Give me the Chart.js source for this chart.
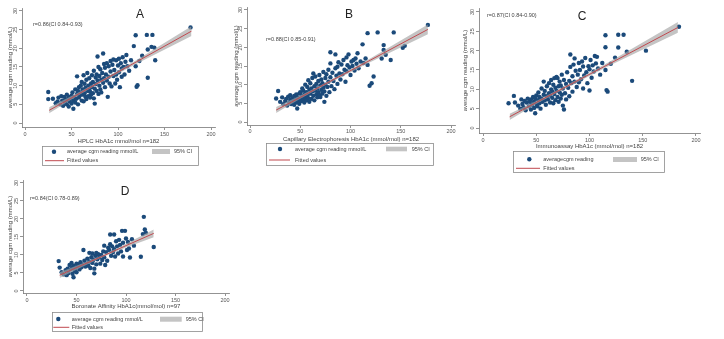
<!DOCTYPE html>
<html>
<head>
<meta charset="utf-8">
<script src="https://cdn.jsdelivr.net/npm/chart.js@4.4.1/dist/chart.umd.min.js"></script>
<style>
  body { margin: 0; background: #fff; width: 724px; height: 339px; position: relative; overflow: hidden; }
  canvas { position: absolute; }
</style>
</head>
<body>
<canvas id="chartA"></canvas>
<canvas id="chartB"></canvas>
<canvas id="chartC"></canvas>
<canvas id="chartD"></canvas>
<script>
// ---- tick labels (same on every panel)
const xTickValues = [0, 50, 100, 150, 200];
const yTickValues = [0, 5, 10, 15, 20, 25, 30];

// ---- A: HPLC HbA1c vs average cgm reading  [HbA1c, cgm]
const hplcPoints = [
  [25,8.3],[25,6.4],[30,6.5],[33,5.3],[35,5.8],[36,6.8],[38,5.0],[39,7.2],[40,6.0],[41,4.6],[42,7.0],[43,5.5],
  [44,6.4],[45,5.0],[45,7.6],[46,6.2],[47,4.4],[47,7.0],[48,5.8],[49,6.6],[50,5.2],[50,7.3],[51,8.2],[52,3.8],
  [52,6.0],[53,7.0],[54,9.0],[54,5.5],[55,6.5],[56,7.8],[56,12.5],[57,8.6],[57,5.0],[58,6.8],[58,9.6],[59,7.4],
  [60,8.2],[60,10.0],[61,6.0],[61,11.0],[62,7.6],[62,9.0],[63,5.8],[63,12.8],[64,8.0],[64,10.5],[65,7.0],[65,9.4],
  [66,6.4],[66,11.6],[67,8.6],[67,13.4],[68,7.2],[68,10.0],[69,9.0],[69,12.0],[70,6.8],[70,8.4],[71,10.6],[71,7.6],
  [72,9.6],[72,12.8],[73,8.0],[73,11.0],[74,6.6],[74,14.0],[75,9.2],[75,5.2],[76,10.4],[76,12.2],[77,8.6],[77,13.0],
  [78,11.4],[78,17.8],[79,7.8],[79,15.0],[80,10.0],[80,12.6],[81,9.0],[81,14.4],[82,11.6],[82,8.2],[83,13.4],[84,18.6],
  [84,10.8],[85,15.8],[85,12.0],[86,9.6],[86,14.8],[87,13.0],[88,16.0],[88,11.4],[89,7.0],[90,15.2],[90,12.4],[91,10.6],
  [92,16.6],[92,13.8],[93,9.8],[94,15.6],[95,12.6],[95,17.0],[96,14.2],[97,10.6],[98,16.8],[98,13.0],[99,11.6],[100,15.4],
  [101,17.2],[101,13.6],[102,9.6],[103,16.0],[104,14.6],[104,12.4],[105,17.6],[106,15.0],[107,13.0],[108,16.4],[109,18.2],
  [110,15.2],[112,14.0],[114,16.8],[117,20.6],[119,23.5],[119,15.2],[120,9.7],[121,10.1],[123,16.6],[126,18.0],[131,23.6],
  [132,19.7],[132,12.1],[136,20.4],[137,23.6],[139,20.2],[140,16.8],[178,25.6]
];
const hplcFitX = [26, 50, 72, 120, 179];
const hplcFitY = [3.4, 6.7, 9.8, 16.4, 24.6];
const hplcCiLow = [2.6, 6.3, 9.5, 15.9, 23.3];
const hplcCiHigh = [4.2, 7.2, 10.1, 16.9, 25.9];

// ---- B: capillary electrophoresis
const capPoints = [
  [26,6.3],[28,8.3],[30,5.4],[32,6.6],[33,4.8],[35,5.6],[36,6.2],[37,4.4],[38,6.8],[39,5.2],[40,6.0],[40,7.2],
  [41,4.8],[42,6.4],[43,5.6],[44,7.0],[44,4.6],[45,6.0],[46,7.4],[46,5.2],[47,3.6],[47,6.6],[48,5.8],[49,7.6],
  [49,4.9],[50,6.4],[50,8.0],[51,5.6],[52,7.0],[52,9.0],[53,6.0],[53,8.4],[54,5.2],[54,7.4],[55,6.6],[55,10.0],
  [56,8.0],[56,5.8],[57,7.2],[57,9.4],[58,6.4],[58,11.2],[59,8.6],[59,5.4],[60,7.6],[60,10.4],[61,9.0],[61,6.2],
  [62,8.2],[62,11.8],[63,13.0],[63,7.0],[64,9.6],[64,5.8],[65,12.2],[65,8.4],[66,7.4],[66,10.2],[67,9.0],[67,6.6],
  [68,11.0],[68,8.0],[69,12.6],[69,7.2],[70,6.7],[70,9.8],[71,8.6],[71,11.4],[72,10.4],[72,7.6],[73,13.4],[73,9.2],
  [74,5.4],[74,8.2],[75,11.8],[75,10.0],[76,7.0],[76,12.8],[77,9.4],[78,14.0],[78,10.8],[79,8.0],[80,18.7],[80,15.7],
  [80,12.0],[81,9.6],[82,13.2],[83,11.0],[84,8.8],[85,18.1],[85,14.4],[86,12.4],[87,14.8],[87,10.2],[88,16.0],[89,13.0],
  [90,11.4],[91,15.4],[92,12.8],[93,16.6],[94,14.0],[95,10.8],[96,17.3],[96,13.6],[97,15.2],[98,18.1],[99,14.6],[100,12.6],
  [101,16.2],[102,15.0],[103,16.6],[104,13.8],[105,17.0],[106,15.6],[107,18.4],[108,14.4],[110,16.2],[112,20.8],[113,15.8],
  [115,17.0],[117,23.8],[117,15.3],[119,9.7],[121,10.4],[123,12.2],[127,24.0],[131,17.0],[133,20.6],[133,19.3],[135,18.0],
  [140,16.6],[143,24.0],[152,19.9],[154,20.4],[177,26.0]
];
const capFitX = [26, 50, 70, 120, 177];
const capFitY = [3.2, 6.6, 9.5, 16.6, 24.8];
const capCiLow = [2.4, 6.2, 9.2, 16.1, 23.5];
const capCiHigh = [4.0, 7.1, 9.8, 17.1, 26.1];

// ---- C: immunoassay
const immPoints = [
  [24,6.4],[29,8.3],[30,6.6],[33,5.8],[35,5.0],[36,7.4],[37,6.2],[38,5.4],[39,7.0],[40,4.6],[41,6.6],[42,7.6],
  [43,5.6],[44,6.8],[45,4.8],[45,7.4],[46,6.0],[47,8.0],[48,5.2],[48,6.8],[49,3.8],[49,7.6],[50,6.2],[50,8.4],
  [51,5.6],[52,7.2],[52,9.2],[53,6.4],[53,8.0],[54,5.0],[55,7.6],[55,10.2],[56,6.8],[57,8.6],[57,12.0],[58,7.2],
  [58,9.6],[59,6.0],[60,8.2],[60,10.8],[61,7.4],[62,9.0],[62,11.6],[63,6.6],[63,8.4],[64,10.0],[64,12.4],[65,7.8],
  [65,9.4],[66,11.2],[66,6.4],[67,12.9],[67,8.8],[68,10.4],[68,7.2],[69,9.6],[69,13.2],[70,12.9],[70,8.0],[71,10.8],
  [71,6.8],[72,9.2],[72,12.0],[73,11.0],[73,7.6],[74,8.6],[74,13.8],[75,10.2],[75,5.8],[76,4.8],[76,12.4],[77,9.0],
  [78,11.4],[78,7.4],[79,14.4],[80,10.4],[81,12.2],[81,8.2],[82,19.0],[82,15.8],[83,11.6],[84,13.4],[84,9.4],[85,16.4],
  [86,18.0],[86,12.0],[87,14.8],[88,10.6],[89,13.8],[90,16.8],[90,11.8],[91,15.0],[92,12.6],[93,17.2],[94,15.9],[94,10.2],
  [95,13.6],[96,18.1],[97,14.4],[98,11.6],[99,16.0],[100,9.7],[100,15.2],[101,17.6],[102,13.0],[103,16.2],[104,14.6],
  [105,18.6],[106,16.7],[107,18.4],[108,15.4],[110,13.8],[112,16.8],[115,24.0],[115,20.9],[115,15.0],[116,9.8],[117,9.4],
  [120,16.6],[124,18.2],[127,24.1],[127,20.8],[132,24.1],[135,19.7],[140,12.2],[153,20.0],[184,26.2]
];
const immFitX = [25, 50, 70, 120, 183];
const immFitY = [2.9, 6.6, 9.5, 16.8, 26.0];
const immCiLow = [2.1, 6.2, 9.2, 16.3, 24.6];
const immCiHigh = [3.7, 7.0, 9.8, 17.3, 27.4];

// ---- D: boronate affinity
const borPoints = [
  [32,8.3],[33,6.5],[35,5.2],[37,4.6],[39,5.8],[40,4.4],[41,6.2],[42,5.0],[43,7.2],[44,6.0],[45,7.8],[46,4.8],
  [46,6.6],[47,3.8],[47,7.0],[48,5.6],[49,6.4],[50,7.6],[50,5.2],[51,6.8],[52,7.4],[53,6.0],[54,8.0],[55,6.6],
  [56,7.2],[57,11.4],[58,8.4],[59,6.8],[60,7.6],[61,9.0],[62,7.0],[63,8.2],[63,10.6],[64,6.4],[65,9.4],[66,7.8],
  [66,10.4],[67,8.6],[68,4.9],[68,6.2],[69,9.8],[70,7.4],[70,10.6],[71,8.8],[72,10.2],[73,9.4],[74,7.6],[75,10.0],
  [76,8.6],[77,11.0],[78,12.6],[78,9.4],[79,7.2],[80,10.8],[81,8.4],[82,12.0],[83,11.4],[84,15.7],[84,13.0],[85,9.8],
  [86,12.4],[87,10.8],[88,15.7],[88,11.6],[89,9.6],[90,13.8],[91,12.4],[92,10.4],[93,14.2],[94,12.8],[95,11.0],[96,16.7],
  [97,13.4],[97,9.6],[99,16.7],[100,14.6],[101,11.4],[102,13.6],[103,11.8],[104,9.3],[106,14.4],[108,12.6],[115,9.5],
  [117,15.8],[118,20.6],[119,17.1],[120,16.2],[128,12.2]
];
const borFitX = [33, 55, 75, 100, 128];
const borFitY = [4.4, 7.1, 9.5, 12.6, 16.0];
const borCiLow = [3.6, 6.6, 9.2, 12.1, 14.9];
const borCiHigh = [5.2, 7.6, 9.8, 13.1, 17.1];

const family = "'Liberation Sans', Arial, sans-serif";
Chart.defaults.font.family = family;

// draws panel letter, r= note and the stata style legend box
const panelText = {
  id: 'panelText',
  afterDraw(chart, args, o) {
    const ctx = chart.ctx;
    const ds = chart.data.datasets;
    const L = o.legend;
    ctx.save();
    ctx.translate(-o.offset[0], -o.offset[1]);
    ctx.textBaseline = 'middle';
    ctx.textAlign = 'center';
    ctx.fillStyle = '#222';
    ctx.font = '12px ' + family;
    ctx.fillText(o.letter, o.letterAt[0], o.letterAt[1]);
    ctx.textAlign = 'left';
    ctx.font = '5.5px ' + family;
    ctx.fillStyle = '#444';
    ctx.fillText(o.note, o.noteAt[0], o.noteAt[1]);

    // legend
    ctx.fillStyle = '#fff';
    ctx.fillRect(L.x, L.y, L.w, L.h);
    ctx.strokeStyle = '#8c8c8c';
    ctx.lineWidth = 0.8;
    ctx.strokeRect(L.x + 0.5, L.y + 0.5, L.w - 1, L.h - 1);
    ctx.fillStyle = ds[0].backgroundColor;
    ctx.beginPath();
    ctx.arc(L.dotX, L.rows[0], 2.2, 0, Math.PI * 2);
    ctx.fill();
    ctx.fillStyle = '#c4c4c4';
    ctx.fillRect(L.swatch[0], L.swatch[1], L.swatch[2], L.swatch[3]);
    ctx.strokeStyle = ds[3].borderColor;
    ctx.lineWidth = 1;
    ctx.beginPath();
    ctx.moveTo(L.line[0], L.rows[1]);
    ctx.lineTo(L.line[1], L.rows[1]);
    ctx.stroke();
    ctx.fillStyle = '#444';
    ctx.fillText(ds[0].label, L.textX, L.rows[0]);
    ctx.fillText(ds[2].label, L.ciX, L.rows[0]);
    ctx.fillText(ds[3].label, L.textX, L.rows[1]);
    ctx.restore();
  }
};

// panel layout (page coordinates)
const panels = [
  { id: 'chartA', left: 0, top: 0, width: 225, height: 172, area: { l: 22, t: 8, r: 215, b: 127 }, xh: 18,
    xr: [-3.23, 204.3], yr: [-1.07, 30.8], yTitlePad: 6.4, xTickPad: 0.7,
    points: hplcPoints, fitX: hplcFitX, fitY: hplcFitY, ciLow: hplcCiLow, ciHigh: hplcCiHigh,
    xTitle: 'HPLC HbA1c mmol/mol n=182', dotLabel: 'average cgm reading mmol/L',
    letter: 'A', letterAt: [140, 15], note: 'r=0.86(CI 0.84-0.93)', noteAt: [33, 24],
    legend: { x: 42, y: 146, w: 157, h: 20, rows: [151.7, 160.7], dotX: 54, textX: 67, swatch: [152, 149, 18, 5], ciX: 174, line: [45, 64] } },
  { id: 'chartB', left: 230, top: 0, width: 235, height: 170, area: { l: 247, t: 7, r: 455, b: 125 }, xh: 18,
    xr: [-2.99, 203.98], yr: [-0.8, 30.8], yTitlePad: 2.4, xTickPad: 0.4,
    points: capPoints, fitX: capFitX, fitY: capFitY, ciLow: capCiLow, ciHigh: capCiHigh,
    xTitle: 'Capillary Electrophoresis HbA1c (mmol/mol) n=182', dotLabel: 'average cgm reading mmol/L',
    letter: 'B', letterAt: [349, 15], note: 'r=0.88(CI 0.85-0.91)', noteAt: [266, 39],
    legend: { x: 266, y: 143, w: 168, h: 23, rows: [149, 160], dotX: 280, textX: 295, swatch: [386, 146.7, 21, 4.6], ciX: 411.7, line: [269, 290] } },
  { id: 'chartC', left: 458, top: 0, width: 252, height: 176, area: { l: 479, t: 8, r: 700, b: 133 }, xh: 17,
    xr: [-3.76, 203.76], yr: [-1.29, 31.03], yTitlePad: 3.4, xTickPad: 0.7,
    points: immPoints, fitX: immFitX, fitY: immFitY, ciLow: immCiLow, ciHigh: immCiHigh,
    xTitle: 'Immunoassay HbA1c (mmol/mol) n=182', dotLabel: 'averagecgm reading',
    letter: 'C', letterAt: [582, 17], note: 'r=0.87(CI 0.84-0.90)', noteAt: [487, 15],
    legend: { x: 513, y: 151, w: 152, h: 22, rows: [159.3, 168.3], dotX: 529.3, textX: 543.3, swatch: [613, 157, 24, 5], ciX: 640.7, line: [516, 540] } },
  { id: 'chartD', left: 0, top: 172, width: 239, height: 164, area: { l: 23, t: 180, r: 229, b: 293 }, xh: 17,
    xr: [-4.04, 204.04], yr: [-0.56, 30.83], yTitlePad: 6.4, xTickPad: 0.7,
    points: borPoints, fitX: borFitX, fitY: borFitY, ciLow: borCiLow, ciHigh: borCiHigh,
    xTitle: 'Boronate Affinity HbA1c(mmol/mol) n=97', dotLabel: 'average cgm reading mmol/L',
    letter: 'D', letterAt: [125, 192], note: 'r=0.84(CI 0.78-0.89)', noteAt: [30, 198],
    legend: { x: 52, y: 312, w: 151, h: 20, rows: [319, 327.3], dotX: 58.3, textX: 71.7, swatch: [160, 316.7, 21.7, 5], ciX: 185.7, line: [53.3, 69.3] } }
];

const xy = (xs, ys) => xs.map((x, i) => ({ x: x, y: ys[i] }));

panels.forEach(p => {
  const canvas = document.getElementById(p.id);
  canvas.width = p.width;
  canvas.height = p.height;
  canvas.style.left = p.left + 'px';
  canvas.style.top = p.top + 'px';

  new Chart(canvas.getContext('2d'), {
    type: 'scatter',
    data: {
      datasets: [{
        label: p.dotLabel,
        data: p.points.map(d => ({ x: d[0], y: d[1] })),
        backgroundColor: '#1b4a7a',
        borderWidth: 0,
        pointRadius: 2.2,
        order: 4
      }, {
        type: 'line',
        label: 'ci low',
        data: xy(p.fitX, p.ciLow),
        borderColor: 'rgba(0,0,0,0)',
        borderWidth: 0,
        pointRadius: 0,
        fill: false,
        order: 3
      }, {
        type: 'line',
        label: '95% CI',
        data: xy(p.fitX, p.ciHigh),
        borderColor: 'rgba(0,0,0,0)',
        borderWidth: 0,
        pointRadius: 0,
        fill: '-1',
        backgroundColor: 'rgba(165,165,165,0.65)',
        order: 2
      }, {
        type: 'line',
        label: 'Fitted values',
        data: xy(p.fitX, p.fitY),
        borderColor: '#c0494f',
        borderWidth: 1,
        pointRadius: 0,
        fill: false,
        order: 1
      }]
    },
    options: {
      responsive: false,
      animation: false,
      events: [],
      layout: {
        padding: {
          left: 0,
          top: p.area.t - p.top,
          right: p.left + p.width - p.area.r,
          bottom: p.top + p.height - (p.area.b + p.xh)
        }
      },
      scales: {
        x: {
          type: 'linear',
          min: p.xr[0],
          max: p.xr[1],
          afterBuildTicks: s => { s.ticks = xTickValues.map(v => ({ value: v })); },
          afterFit: s => { s.height = p.xh; },
          grid: { drawOnChartArea: false, drawTicks: true, tickLength: 3, color: '#777', lineWidth: 0.8 },
          border: { display: true, color: '#777', width: 0.8 },
          ticks: { font: { size: 5.5 }, color: '#555', padding: p.xTickPad, maxRotation: 0, autoSkip: false },
          title: { display: true, text: p.xTitle, font: { size: 6 }, color: '#444', padding: { top: 0, bottom: 0 } }
        },
        y: {
          type: 'linear',
          min: p.yr[0],
          max: p.yr[1],
          afterBuildTicks: s => { s.ticks = yTickValues.map(v => ({ value: v })); },
          afterFit: s => { s.width = p.area.l - p.left; },
          grid: { drawOnChartArea: false, drawTicks: true, tickLength: 3, color: '#777', lineWidth: 0.8 },
          border: { display: true, color: '#777', width: 0.8 },
          ticks: { font: { size: 5.5 }, color: '#555', padding: 0, minRotation: 90, maxRotation: 90, crossAlign: 'center', autoSkip: false },
          title: { display: true, text: 'average cgm reading (mmol/L)', font: { size: 6 }, color: '#444', padding: { top: p.yTitlePad, bottom: 0 } }
        }
      },
      plugins: {
        legend: { display: false },
        tooltip: { enabled: false },
        panelText: {
          offset: [p.left, p.top],
          letter: p.letter,
          letterAt: p.letterAt,
          note: p.note,
          noteAt: p.noteAt,
          legend: p.legend
        }
      }
    },
    plugins: [panelText]
  });
});
</script>
</body>
</html>
